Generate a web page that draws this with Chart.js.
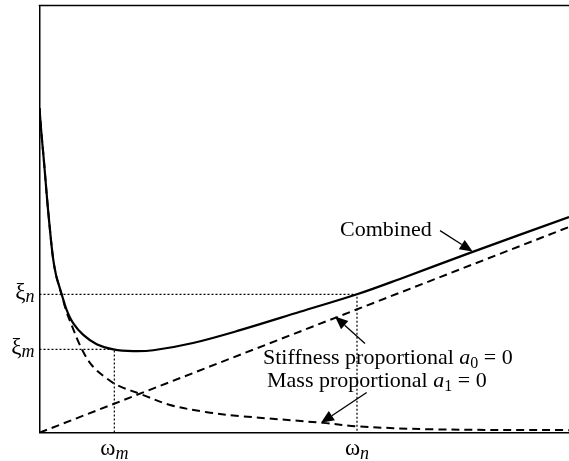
<!DOCTYPE html>
<html><head><meta charset="utf-8">
<script src="https://cdn.jsdelivr.net/npm/chart.js@4/dist/chart.umd.min.js"></script>
<style>html,body{margin:0;padding:0;background:#fff}canvas{display:block}</style>
</head><body>
<canvas id="c" width="569" height="461"></canvas>
<script>
// ---- data (arbitrary units: ω on x, ξ on y) ----
const combinedX = [0,0.028,0.085,0.142,0.189,0.255,0.312,0.355,0.419,0.514,0.638,0.827,1.080,1.394,1.771,2.149,2.899,3.787,4.920,5.996,6.808,8.130,10];
const combinedY = [7.60,7.13,6.34,5.49,4.86,4.09,3.69,3.50,3.24,2.87,2.56,2.29,2.07,1.95,1.91,1.93,2.10,2.40,2.83,3.24,3.60,4.21,5.05];
const massX = [0,0.028,0.085,0.142,0.189,0.255,0.312,0.368,0.425,0.500,0.567,0.652,0.733,0.840,0.967,1.105,1.269,1.426,1.583,1.898,2.465,3.163,3.787,5.354,5.996,7.375,10];
const massY = [7.60,7.13,6.34,5.49,4.86,4.09,3.69,3.44,3.20,2.87,2.64,2.38,2.13,1.86,1.61,1.43,1.27,1.14,1.05,0.91,0.65,0.48,0.39,0.23,0.15,0.08,0.06];
const stiffX = [0, 10];
const stiffY = [0, 4.815];
const omegaM = 1.413, omegaN = 5.996;   // ω_m, ω_n
const xiM = 1.95, xiN = 3.24;           // ξ_m, ξ_n
const xTickVals = [omegaM, omegaN];
const xTickSubs = ['m', 'n'];
const yTickVals = [xiN, xiM];
const yTickSubs = ['n', 'm'];
const labelTexts = [
  [['Combined','n']],
  [['Stiffness proportional ','n'],['a','i'],['0','s'],[' = 0','n']],
  [['Mass proportional ','n'],['a','i'],['1','s'],[' = 0','n']]
];
const labelX = [5.675, 4.221, 4.297];
const labelY = [4.60, 1.61, 1.08];
const arrowTailX = [7.565, 6.147, 6.179];
const arrowTailY = [4.73, 2.09, 0.94];
const arrowTipX  = [8.181, 5.581, 5.316];
const arrowTipY  = [4.24, 2.72, 0.23];

const pts = (xs, ys) => xs.map((x, i) => ({x, y: ys[i]}));
const FONT = '"Liberation Serif", "Times New Roman", serif';

const overlay = {
  id: 'overlay',
  afterDatasetsDraw(chart) {
    const ctx = chart.ctx, xs = chart.scales.x, ys = chart.scales.y, ca = chart.chartArea;
    ctx.save();
    ctx.strokeStyle = '#000'; ctx.fillStyle = '#000';
    // top frame line
    ctx.lineWidth = 1.5;
    ctx.beginPath(); ctx.moveTo(ca.left - 0.75, ca.top); ctx.lineTo(ca.right, ca.top); ctx.stroke();

    // arrows
    for (let i = 0; i < arrowTipX.length; i++) {
      const x0 = xs.getPixelForValue(arrowTailX[i]), y0 = ys.getPixelForValue(arrowTailY[i]);
      const x1 = xs.getPixelForValue(arrowTipX[i]),  y1 = ys.getPixelForValue(arrowTipY[i]);
      const a = Math.atan2(y1 - y0, x1 - x0), L = 13, W = 5.5;
      const bx = x1 - L * Math.cos(a), by = y1 - L * Math.sin(a);
      ctx.lineWidth = 1.3;
      ctx.beginPath(); ctx.moveTo(x0, y0); ctx.lineTo(bx, by); ctx.stroke();
      ctx.beginPath();
      ctx.moveTo(x1, y1);
      ctx.lineTo(bx + W * Math.sin(a), by - W * Math.cos(a));
      ctx.lineTo(bx - W * Math.sin(a), by + W * Math.cos(a));
      ctx.closePath(); ctx.fill();
    }

    // text runs
    const fontFor = k => k === 'i' ? 'italic 22px ' + FONT : k === 's' ? '16px ' + FONT : '22px ' + FONT;
    ctx.textBaseline = 'alphabetic'; ctx.textAlign = 'left';
    for (let i = 0; i < labelTexts.length; i++) {
      let x = xs.getPixelForValue(labelX[i]);
      const y = ys.getPixelForValue(labelY[i]);
      for (const [t, k] of labelTexts[i]) {
        ctx.font = fontFor(k);
        ctx.fillText(t, x, y + (k === 's' ? 4 : 0));
        x += ctx.measureText(t).width;
      }
    }

    // axis symbol labels
    const mainF = '23px ' + FONT, subF = 'italic 18px ' + FONT;
    for (let i = 0; i < yTickVals.length; i++) {
      const y = ys.getPixelForValue(yTickVals[i]);
      ctx.font = subF; const ws = ctx.measureText(yTickSubs[i]).width;
      ctx.font = mainF; const wm = ctx.measureText('ξ').width;
      const right = ca.left - 5;
      ctx.fillText('ξ', right - ws - wm, y + 5);
      ctx.font = subF; ctx.fillText(yTickSubs[i], right - ws, y + 8);
    }
    for (let i = 0; i < xTickVals.length; i++) {
      const x = xs.getPixelForValue(xTickVals[i]);
      ctx.font = subF; const ws = ctx.measureText(xTickSubs[i]).width;
      ctx.font = mainF; const wm = ctx.measureText('ω').width;
      const left = x - (ws + wm) / 2;
      ctx.fillText('ω', left, ca.bottom + 22);
      ctx.font = subF; ctx.fillText(xTickSubs[i], left + wm, ca.bottom + 26);
    }
    ctx.restore();
  }
};

const guide = {borderColor:'#000', borderWidth:1.2, borderDash:[2,2], pointRadius:0, showLine:true, fill:false, tension:0, order:5};

new Chart(document.getElementById('c'), {
  type: 'scatter',
  data: {
    datasets: [
      {data: pts(combinedX, combinedY), borderColor:'#000', borderWidth:2.2, pointRadius:0, showLine:true, tension:0.35, order:1},
      {data: pts(massX, massY), borderColor:'#000', borderWidth:2, borderDash:[8,5], pointRadius:0, showLine:true, tension:0.35, order:2},
      {data: pts(stiffX, stiffY), borderColor:'#000', borderWidth:2, borderDash:[8,5], pointRadius:0, showLine:true, tension:0, order:3},
      Object.assign({data: [{x:0,y:xiN},{x:omegaN,y:xiN},{x:omegaN,y:0}]}, guide),
      Object.assign({data: [{x:0,y:xiM},{x:omegaM,y:xiM},{x:omegaM,y:0}]}, guide)
    ]
  },
  options: {
    responsive: false,
    devicePixelRatio: 1,
    animation: false,
    layout: {padding: {left: 39.5, top: 5.5, right: 0, bottom: 28.3}},
    plugins: {legend: {display:false}, tooltip: {enabled:false}},
    scales: {
      x: {type:'linear', min:0, max:10, grid:{display:false, drawTicks:false}, ticks:{display:false},
          border:{display:true, color:'#000', width:1.5}},
      y: {type:'linear', min:0, max:10, grid:{display:false, drawTicks:false}, ticks:{display:false},
          border:{display:true, color:'#000', width:1.5}}
    }
  },
  plugins: [overlay]
});
</script>
</body></html>
